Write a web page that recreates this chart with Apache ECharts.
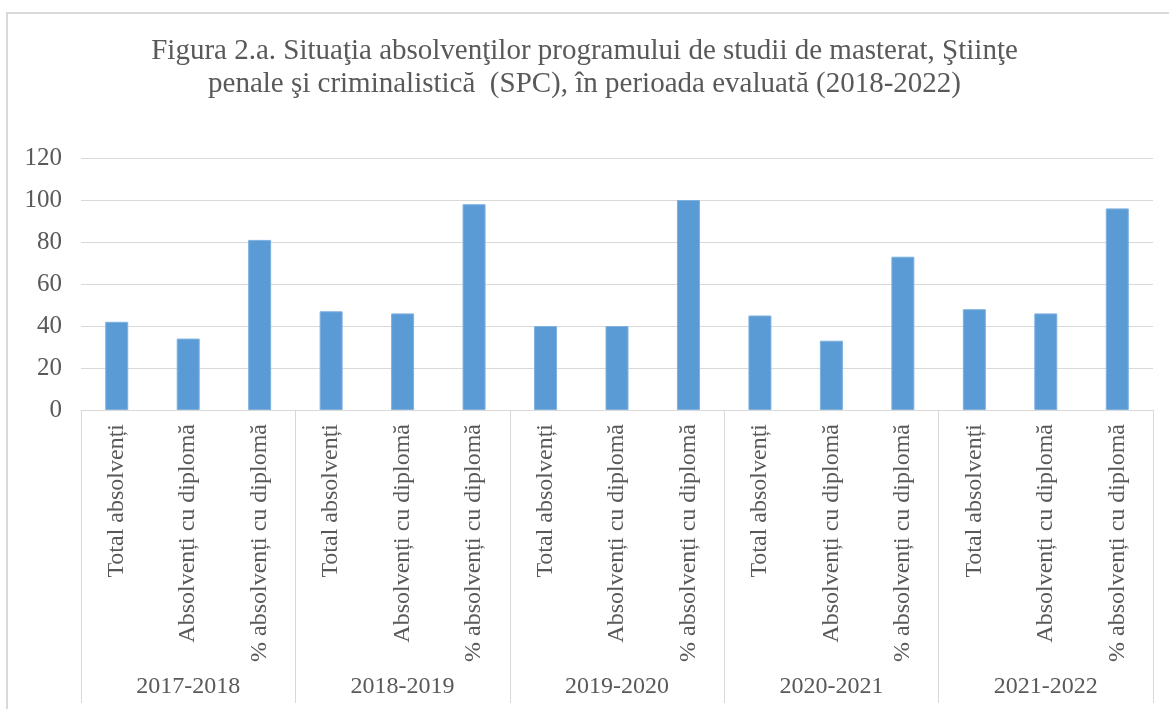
<!DOCTYPE html>
<html>
<head>
<meta charset="utf-8">
<title>Figura 2.a</title>
<script src="https://cdn.jsdelivr.net/npm/echarts@6/dist/echarts.min.js"></script>
<style>
  html, body { margin: 0; padding: 0; background: #fff; }
  #chart { width: 1169px; height: 709px; }
</style>
</head>
<body>
<div id="chart"></div>
<script>
// date
const years = ['2017-2018', '2018-2019', '2019-2020', '2020-2021', '2021-2022'];
const indicators = ['Total absolvenți', 'Absolvenți cu diplomă', '% absolvenți cu diplomă'];
const values = [42, 34, 81, 47, 46, 98, 40, 40, 100, 45, 33, 73, 48, 46, 96];
const yTicks = [0, 20, 40, 60, 80, 100, 120];

const categories = [];
years.forEach(() => indicators.forEach(name => categories.push(name)));

const font = '"Liberation Serif", "Times New Roman", serif';
const textColor = '#595959';
const lineColor = '#d9d9d9';

const chart = echarts.init(document.getElementById('chart'));

chart.setOption({
  animation: false,
  title: {
    text: 'Figura 2.a. Situaţia absolvenţilor programului de studii de masterat, Ştiinţe\npenale şi criminalistică  (SPC), în perioada evaluată (2018-2022)',
    left: 'center',
    top: 30,
    textStyle: {
      fontFamily: font,
      fontWeight: 'normal',
      fontSize: 29,
      lineHeight: 33,
      color: textColor
    }
  },
  graphic: [
    { type: 'line', shape: { x1: 6, y1: 13, x2: 1169, y2: 13 }, style: { stroke: lineColor, lineWidth: 2 } },
    { type: 'line', shape: { x1: 7, y1: 13, x2: 7, y2: 709 }, style: { stroke: lineColor, lineWidth: 2 } }
  ],
  grid: { left: 81, right: 16, top: 158, bottom: 299, containLabel: false },
  xAxis: [
    {
      type: 'category',
      data: categories,
      axisLine: { lineStyle: { color: lineColor } },
      axisTick: { show: false },
      axisLabel: {
        interval: 0,
        rotate: 90,
        margin: 14,
        fontFamily: font,
        fontSize: 24,
        color: textColor
      }
    },
    {
      type: 'category',
      data: years,
      position: 'bottom',
      axisLine: { show: false },
      axisTick: { show: true, length: 293, interval: 0, lineStyle: { color: lineColor } },
      axisLabel: {
        interval: 0,
        margin: 265,
        fontFamily: font,
        fontSize: 24,
        color: textColor
      }
    }
  ],
  yAxis: {
    type: 'value',
    min: yTicks[0],
    max: yTicks[yTicks.length - 1],
    interval: 20,
    axisLine: { show: false },
    axisTick: { show: false },
    splitLine: { lineStyle: { color: lineColor } },
    axisLabel: {
      margin: 19,
      fontFamily: font,
      fontSize: 25,
      color: textColor
    }
  },
  series: [{
    type: 'bar',
    xAxisIndex: 0,
    data: values,
    barWidth: 23,
    itemStyle: { color: '#5b9bd5', borderColor: '#7fb1de', borderWidth: 1 }
  }]
});
</script>
</body>
</html>
